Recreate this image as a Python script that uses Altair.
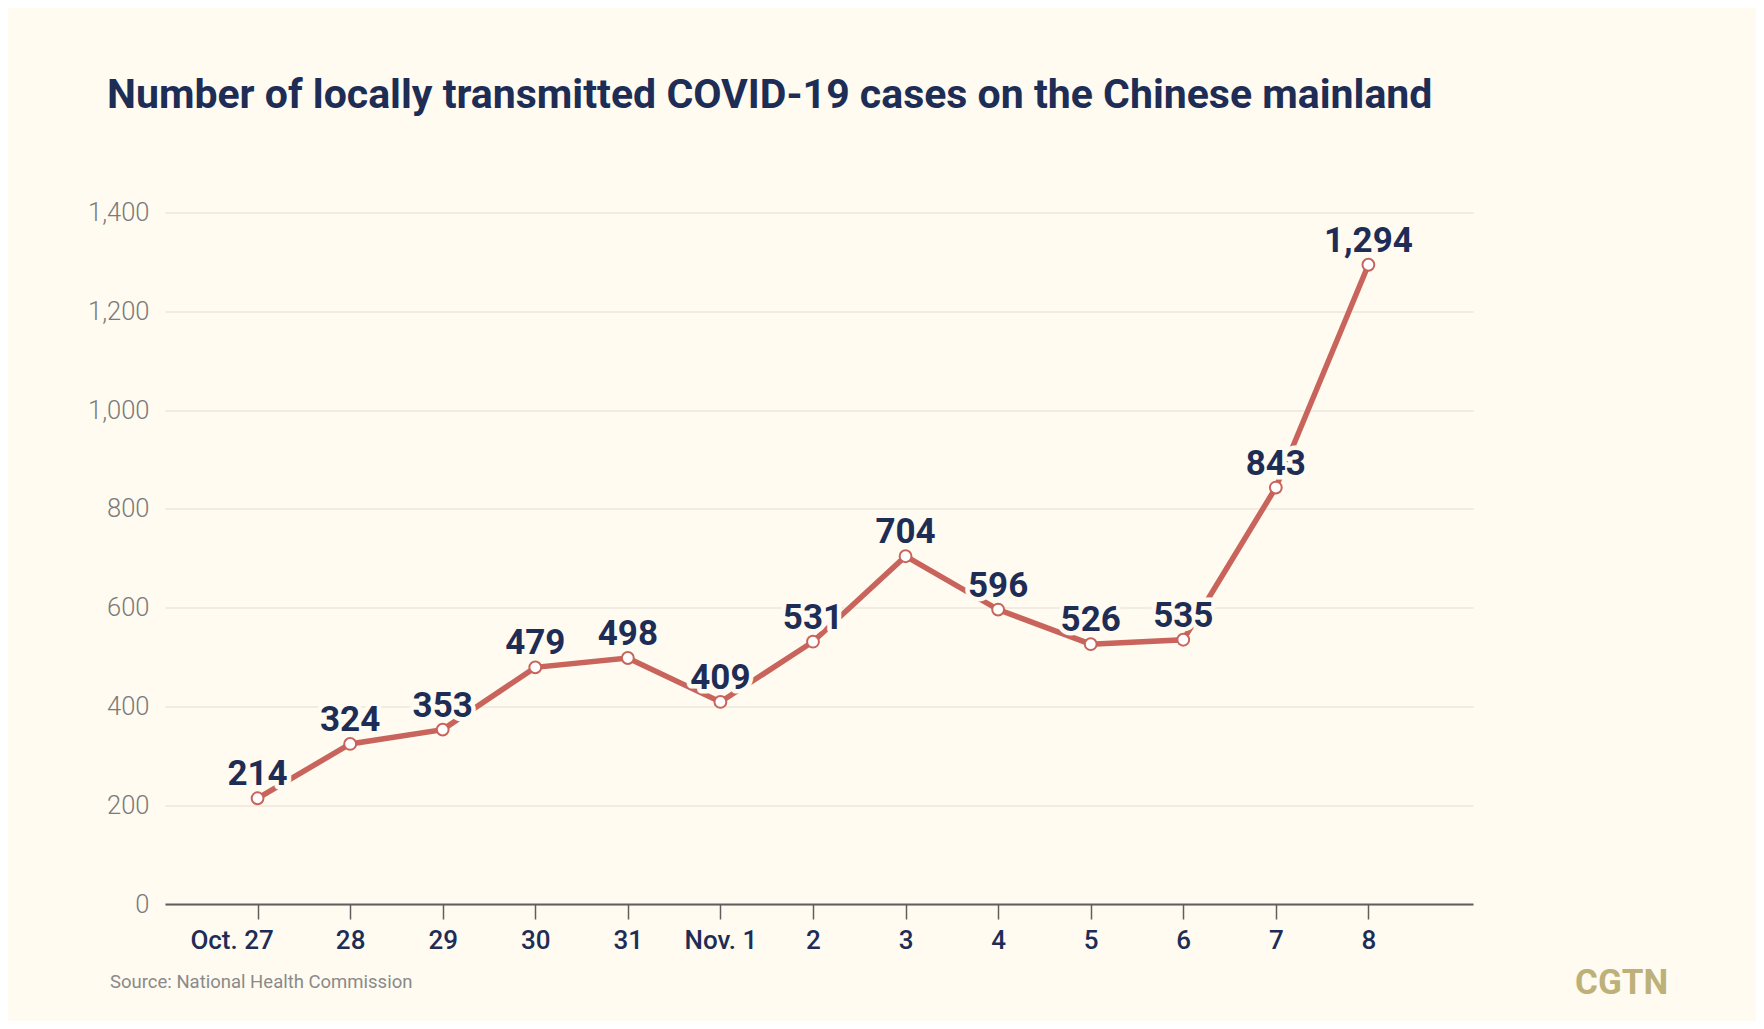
import json
import altair as alt
import pandas as pd

# ---- data ----
dates = ["Oct. 27", "28", "29", "30", "31", "Nov. 1", "2", "3", "4", "5", "6", "7", "8"]
cases = [214, 324, 353, 479, 498, 409, 531, 704, 596, 526, 535, 843, 1294]
y_ticks = [0, 200, 400, 600, 800, 1000, 1200, 1400]

title_text = "Number of locally transmitted COVID-19 cases on the Chinese mainland"
source_text = "Source: National Health Commission"
brand_text = "CGTN"

BG = "#fffbf0"
NAVY = "#1e2d56"
RED = "#c8645b"

df = pd.DataFrame({
    "idx": list(range(len(dates))),
    "date": dates,
    "cases": cases,
    "label": [f"{c:,}" for c in cases],
})

label_expr = json.dumps(dates) + "[datum.value]"

x = alt.X(
    "idx:Q",
    scale=alt.Scale(domain=[-1, 13.13], nice=False, zero=False),
    axis=alt.Axis(
        values=list(range(len(dates))),
        labelExpr=label_expr,
        title=None,
        grid=False,
        domainColor="#5f5f5f",
        domainWidth=2,
        tickColor="#5f5f5f",
        tickWidth=1.5,
        tickSize=15,
        labelPadding=8,
        labelFont="Roboto",
        labelFontSize=26,
        labelFontWeight=500,
        labelColor=NAVY,
        labelOverlap=False,
        labelOffset=alt.expr("datum.value == 0 ? -26 : 0"),
    ),
)
y = alt.Y(
    "cases:Q",
    scale=alt.Scale(domain=[0, 1400], nice=False),
    axis=alt.Axis(
        values=y_ticks,
        format=",d",
        title=None,
        domain=False,
        ticks=False,
        gridColor="#ebe7dc",
        gridWidth=1.5,
        labelFont="Roboto",
        labelFontWeight=300,
        labelFontSize=25.5,
        labelColor="#7a7a7a",
        labelPadding=16,
    ),
)

base = alt.Chart(df).encode(x=x, y=y)

line = base.mark_line(color=RED, strokeWidth=5.5)
points = base.mark_point(filled=True, fill="white", stroke=RED, strokeWidth=2, size=140, opacity=1)
halo = base.mark_text(
    dy=-13, baseline="alphabetic", font="Roboto", fontWeight="bold", fontSize=35,
    stroke=BG, strokeWidth=9, strokeJoin="round", color=BG,
).encode(text="label:N")
labels = base.mark_text(
    dy=-13, baseline="alphabetic", font="Roboto", fontWeight="bold", fontSize=35, color=NAVY,
).encode(text="label:N")

source = alt.Chart(pd.DataFrame({"t": [source_text]})).mark_text(
    align="left", baseline="alphabetic", font="Roboto", fontSize=18.5, color="#8a8a8a"
).encode(x=alt.value(-55), y=alt.value(776), text="t:N")

brand = alt.Chart(pd.DataFrame({"t": [brand_text]})).mark_text(
    align="left", baseline="alphabetic", font="Roboto", fontWeight="bold", fontSize=35, color="#bdb079"
).encode(x=alt.value(1410), y=alt.value(782), text="t:N")

chart = alt.layer(line, points, halo, labels, source, brand).properties(
    width=1308,
    height=691.6,
    padding={"left": 157, "top": 204.4, "right": 283, "bottom": 117},
    autosize=alt.AutoSizeParams(type="none"),
    title=alt.TitleParams(
        title_text,
        anchor="start",
        frame="group",
        dx=-58,
        offset=83,
        font="Roboto",
        fontSize=41,
        fontWeight="bold",
        color=NAVY,
    ),
).configure(background=BG).configure_view(stroke=None)

chart.save("out.html", embed_options={"renderer": "svg", "actions": False})
